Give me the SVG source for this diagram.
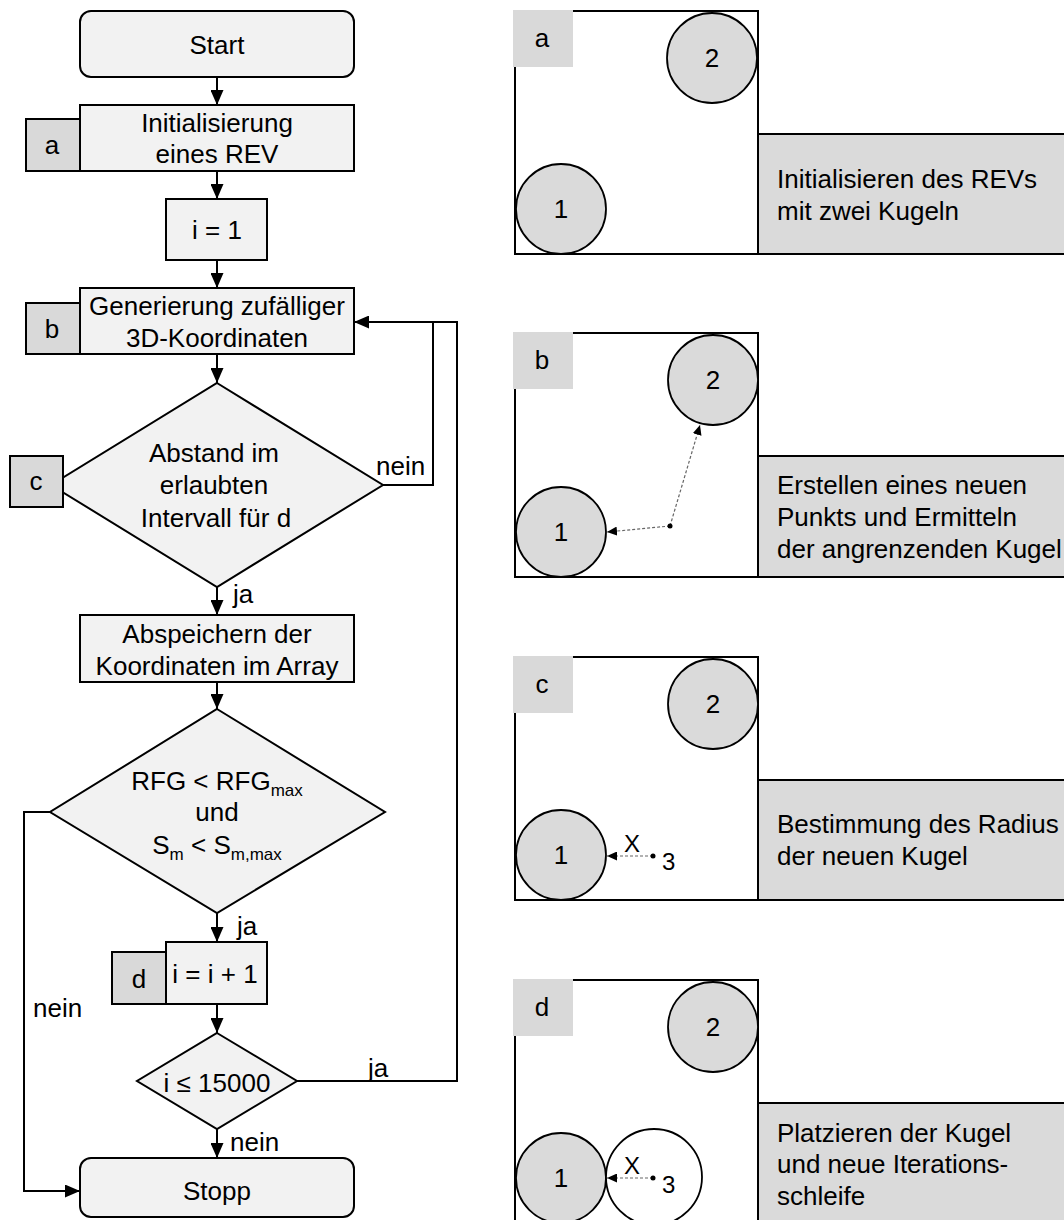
<svg xmlns="http://www.w3.org/2000/svg" width="1064" height="1220" viewBox="0 0 1064 1220">
<style>
text{font-family:"Liberation Sans",Arial,sans-serif;font-size:26px;fill:#000}
.c{text-anchor:middle}
.box{fill:#f2f2f2;stroke:#000;stroke-width:2}
.lbl{fill:#d9d9d9;stroke:#000;stroke-width:2}
.plbl{fill:#d9d9d9;stroke:none}
.sq{fill:#fff;stroke:#000;stroke-width:2}
.ball{fill:#dadada;stroke:#000;stroke-width:1.8}
.ball3{fill:#fff;stroke:#000;stroke-width:1.8}
.tbox{fill:#dadada;stroke:#000;stroke-width:2}
.conn{fill:none;stroke:#000;stroke-width:2}
.dash{fill:none;stroke:#666;stroke-width:1.2;stroke-dasharray:3 2}
.sm{font-size:24px}
</style>
<defs>
<marker id="ah" markerUnits="userSpaceOnUse" markerWidth="15" markerHeight="13" refX="15" refY="6.5" orient="auto">
<path d="M0,0 L15,6.5 L0,13 z" fill="#000"/>
</marker>
<marker id="ahs" markerUnits="userSpaceOnUse" markerWidth="10" markerHeight="9" refX="10" refY="4.5" orient="auto">
<path d="M0,0 L10,4.5 L0,9 z" fill="#000"/>
</marker>
</defs>

<g id="connectors">
<path class="conn" d="M217,77 V105" marker-end="url(#ah)"/>
<path class="conn" d="M217,171 V199" marker-end="url(#ah)"/>
<path class="conn" d="M217,260 V288" marker-end="url(#ah)"/>
<path class="conn" d="M217,354 V383" marker-end="url(#ah)"/>
<path class="conn" d="M383,485 H433 V322 H354" marker-end="url(#ah)"/>
<path class="conn" d="M217,587 V615" marker-end="url(#ah)"/>
<path class="conn" d="M217,682 V709" marker-end="url(#ah)"/>
<path class="conn" d="M50,812 H24 V1191 H80" marker-end="url(#ah)"/>
<path class="conn" d="M217,913 V942" marker-end="url(#ah)"/>
<path class="conn" d="M217,1004 V1033" marker-end="url(#ah)"/>
<path class="conn" d="M297,1081 H457 V322 H433"/>
<path class="conn" d="M217,1129 V1158" marker-end="url(#ah)"/>
<text x="376" y="475">nein</text>
<text x="233" y="603">ja</text>
<text x="33" y="1017">nein</text>
<text x="237" y="935">ja</text>
<text x="368" y="1077">ja</text>
<text x="230" y="1151">nein</text>
</g>

<g id="start">
<rect class="box" x="80" y="11" width="274" height="66" rx="11"/>
<text class="c" x="217" y="54">Start</text>
</g>
<g id="init">
<rect class="box" x="80" y="105" width="274" height="66"/>
<text class="c" x="217" y="132">Initialisierung</text>
<text class="c" x="217" y="163">eines REV</text>
<rect class="lbl" x="26" y="119" width="54" height="52"/>
<text class="c" x="52" y="154">a</text>
</g>
<g id="i1">
<rect class="box" x="166" y="199" width="101" height="61"/>
<text class="c" x="217" y="239">i = 1</text>
</g>
<g id="generate">
<rect class="box" x="80" y="288" width="274" height="66"/>
<text class="c" x="217" y="315">Generierung zufälliger</text>
<text class="c" x="217" y="347">3D-Koordinaten</text>
<rect class="lbl" x="26" y="303" width="54" height="51"/>
<text class="c" x="52" y="338">b</text>
</g>
<g id="check-distance">
<polygon class="box" points="217,383 383,485 217,587 51,485"/>
<text class="c" x="214" y="462">Abstand im</text>
<text class="c" x="214" y="494">erlaubten</text>
<text class="c" x="216" y="527">Intervall für d</text>
<rect class="lbl" x="10" y="456" width="53" height="51"/>
<text class="c" x="36" y="490">c</text>
</g>
<g id="store">
<rect class="box" x="80" y="615" width="274" height="67"/>
<text class="c" x="217" y="643">Abspeichern der</text>
<text class="c" x="217" y="675">Koordinaten im Array</text>
</g>
<g id="check-rfg">
<polygon class="box" points="217,709 385,812 217,913 50,812"/>
<text class="c" x="217" y="790">RFG &lt; RFG<tspan font-size="17" dy="6">max</tspan></text>
<text class="c" x="217" y="821">und</text>
<text class="c" x="217" y="854">S<tspan font-size="17" dy="6">m</tspan><tspan dy="-6"> &lt; S</tspan><tspan font-size="17" dy="6">m,max</tspan></text>
</g>
<g id="increment">
<rect class="box" x="166" y="942" width="101" height="62"/>
<text class="c" x="215" y="983">i = i + 1</text>
<rect class="lbl" x="112" y="952" width="54" height="52"/>
<text class="c" x="139" y="988">d</text>
</g>
<g id="check-i">
<polygon class="box" points="217,1033 297,1081 217,1129 137,1081"/>
<text class="c" x="217" y="1092">i ≤ 15000</text>
</g>
<g id="stop">
<rect class="box" x="80" y="1158" width="274" height="59" rx="11"/>
<text class="c" x="217" y="1200">Stopp</text>
</g>

<g id="panel-a">
<rect class="sq" x="515" y="11" width="243" height="243"/>
<circle class="ball" cx="712" cy="58" r="45"/>
<circle class="ball" cx="561" cy="209" r="45"/>
<text class="c" x="712" y="67">2</text>
<text class="c" x="561" y="218">1</text>
<rect class="plbl" x="513" y="10" width="60" height="57"/>
<text class="c" x="542" y="47">a</text>
<rect class="tbox" x="758" y="134" width="312" height="120"/>
<text x="777" y="188">Initialisieren des REVs</text>
<text x="777" y="220">mit zwei Kugeln</text>
</g>

<g id="panel-b" transform="translate(0,322)">
<rect class="sq" x="515" y="11" width="243" height="244"/>
<circle class="ball" cx="713" cy="58" r="45"/>
<circle class="ball" cx="561" cy="210" r="45"/>
<text class="c" x="713" y="67">2</text>
<text class="c" x="561" y="219">1</text>
<path class="dash" d="M670,204 L700,103" marker-end="url(#ahs)"/>
<path class="dash" d="M670,204 L607,210" marker-end="url(#ahs)"/>
<circle cx="670" cy="204" r="2.5" fill="#000"/>
<rect class="plbl" x="513" y="10" width="60" height="57"/>
<text class="c" x="542" y="47">b</text>
<rect class="tbox" x="758" y="134" width="312" height="121"/>
<text x="777" y="172">Erstellen eines neuen</text>
<text x="777" y="204">Punkts und Ermitteln</text>
<text x="777" y="236">der angrenzenden Kugel</text>
</g>

<g id="panel-c" transform="translate(0,646)">
<rect class="sq" x="515" y="11" width="243" height="243"/>
<circle class="ball" cx="713" cy="58" r="45"/>
<circle class="ball" cx="561" cy="209" r="45"/>
<text class="c" x="713" y="67">2</text>
<text class="c" x="561" y="218">1</text>
<path class="dash" d="M653,210 L607,210" marker-end="url(#ahs)"/>
<circle cx="653" cy="210" r="2.5" fill="#000"/>
<text class="c sm" x="632" y="206">X</text>
<text class="sm" x="662" y="224">3</text>
<rect class="plbl" x="513" y="10" width="60" height="57"/>
<text class="c" x="542" y="47">c</text>
<rect class="tbox" x="758" y="134" width="312" height="120"/>
<text x="777" y="187">Bestimmung des Radius</text>
<text x="777" y="219">der neuen Kugel</text>
</g>

<g id="panel-d" transform="translate(0,969)">
<rect class="sq" x="515" y="11" width="243" height="243"/>
<circle class="ball" cx="713" cy="58" r="45"/>
<circle class="ball" cx="561" cy="209" r="45"/>
<circle class="ball3" cx="654" cy="208" r="48"/>
<text class="c" x="713" y="67">2</text>
<text class="c" x="561" y="218">1</text>
<path class="dash" d="M653,209 L607,209" marker-end="url(#ahs)"/>
<circle cx="653" cy="209" r="2.5" fill="#000"/>
<text class="c sm" x="632" y="205">X</text>
<text class="sm" x="662" y="224">3</text>
<rect class="plbl" x="513" y="10" width="60" height="57"/>
<text class="c" x="542" y="47">d</text>
<rect class="tbox" x="758" y="134" width="312" height="121"/>
<text x="777" y="173">Platzieren der Kugel</text>
<text x="777" y="204">und neue Iterations-</text>
<text x="777" y="236">schleife</text>
</g>
</svg>
